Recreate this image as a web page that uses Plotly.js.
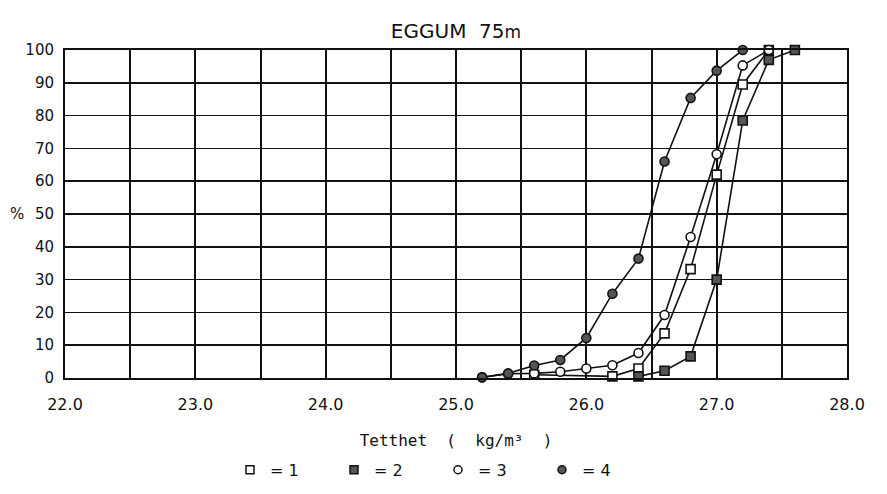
<!DOCTYPE html>
<html>
<head>
<meta charset="utf-8">
<script src="https://cdn.plot.ly/plotly-3.0.1.min.js"></script>
<style>html,body{margin:0;padding:0;background:#fff;}#chart{width:887px;height:494px;}</style>
</head>
<body>
<div id="chart"></div>
<script>
// Series 1 (open square)
const x1 = [25.6, 26.2, 26.4, 26.6, 26.8, 27.0, 27.2, 27.4];
const y1 = [1.0, 0.5, 2.9, 13.6, 33.2, 62.0, 89.5, 100];
// Series 2 (filled square)
const x2 = [26.4, 26.6, 26.8, 27.0, 27.2, 27.4, 27.6];
const y2 = [0.5, 2.2, 6.6, 30.0, 78.5, 97.0, 100];
// Series 3 (open circle)
const x3 = [25.2, 25.4, 25.6, 25.8, 26.0, 26.2, 26.4, 26.6, 26.8, 27.0, 27.2, 27.4];
const y3 = [0.2, 1.3, 1.4, 1.9, 2.9, 3.9, 7.6, 19.2, 43.0, 68.2, 95.3, 100];
// Series 4 (filled circle)
const x4 = [25.2, 25.4, 25.6, 25.8, 26.0, 26.2, 26.4, 26.6, 26.8, 27.0, 27.2];
const y4 = [0.2, 1.4, 3.8, 5.5, 12.2, 25.7, 36.4, 66.0, 85.4, 93.7, 100];

const legendNames = ['= 1', '= 2', '= 3', '= 4'];
const xTickVals = [22, 23, 24, 25, 26, 27, 28];
const yTickVals = [0, 10, 20, 30, 40, 50, 60, 70, 80, 90, 100];

const series = [[x1, y1], [x2, y2], [x3, y3], [x4, y4]];
const fillOf = ['#ffffff', '#555555', '#ffffff', '#555555'];
const markSym = ['square', 'square', 'circle', 'circle'];

const traces = [];
series.forEach((s, i) => {
  traces.push({
    x: s[0], y: s[1], type: 'scatter', mode: 'lines+markers',
    showlegend: false, cliponaxis: false,
    line: {color: '#111', width: 1.6},
    marker: {symbol: markSym[i], size: 9, color: fillOf[i], line: {color: '#111', width: 1.6}}
  });
});
legendNames.forEach((n, i) => {
  traces.push({
    x: [null], y: [null], type: 'scatter', mode: 'markers', name: n,
    marker: {symbol: markSym[i], size: 8, color: fillOf[i], line: {color: '#111', width: 1.5}}
  });
});

const layout = {
  width: 887, height: 494,
  margin: {l: 65, r: 40, t: 50, b: 116, autoexpand: false},
  paper_bgcolor: '#fff', plot_bgcolor: '#fff',
  font: {family: 'DejaVu Sans', color: '#111'},
  title: {text: 'EGGUM  75<span style="font-size:17px">m</span>', x: 0.5, xref: 'paper', xanchor: 'center', y: 1, yref: 'container', yanchor: 'top', pad: {t: 24}, font: {size: 20, family: 'DejaVu Sans', color: '#111'}},
  xaxis: {
    range: [22, 28], tickvals: xTickVals, ticktext: xTickVals.map(v => v.toFixed(1)),
    showgrid: true, gridcolor: '#111', gridwidth: 2,
    minor: {dtick: 0.5, tick0: 22, showgrid: true, gridcolor: '#111', gridwidth: 2},
    showline: true, mirror: true, linecolor: '#111', linewidth: 2,
    zeroline: false, ticks: '', ticklabelstandoff: 11,
    tickfont: {size: 16, family: 'DejaVu Sans', color: '#111'},
    title: {text: 'Tetthet  (  kg/m³  )', standoff: 22, font: {size: 16, family: 'DejaVu Sans Mono', color: '#111'}}
  },
  yaxis: {
    range: [0, 100], tickvals: yTickVals,
    showgrid: true, gridcolor: '#111', gridwidth: 1.5,
    showline: true, mirror: true, linecolor: '#111', linewidth: 2,
    zeroline: false, ticks: '', ticklabelstandoff: 6,
    tickfont: {size: 15, family: 'DejaVu Sans', color: '#111'}
  },
  legend: {
    orientation: 'h', x: 0.211, xanchor: 'left', y: -0.28, yanchor: 'middle',
    entrywidth: 59, itemwidth: 30,
    font: {size: 16, family: 'DejaVu Sans', color: '#111'}
  },
  annotations: [{
    text: '%', xref: 'paper', yref: 'y', x: -0.061, xanchor: 'center', y: 50, showarrow: false,
    font: {size: 15, family: 'DejaVu Sans', color: '#111'}
  }]
};

Plotly.newPlot('chart', traces, layout, {displayModeBar: false, staticPlot: true});
</script>
</body>
</html>
